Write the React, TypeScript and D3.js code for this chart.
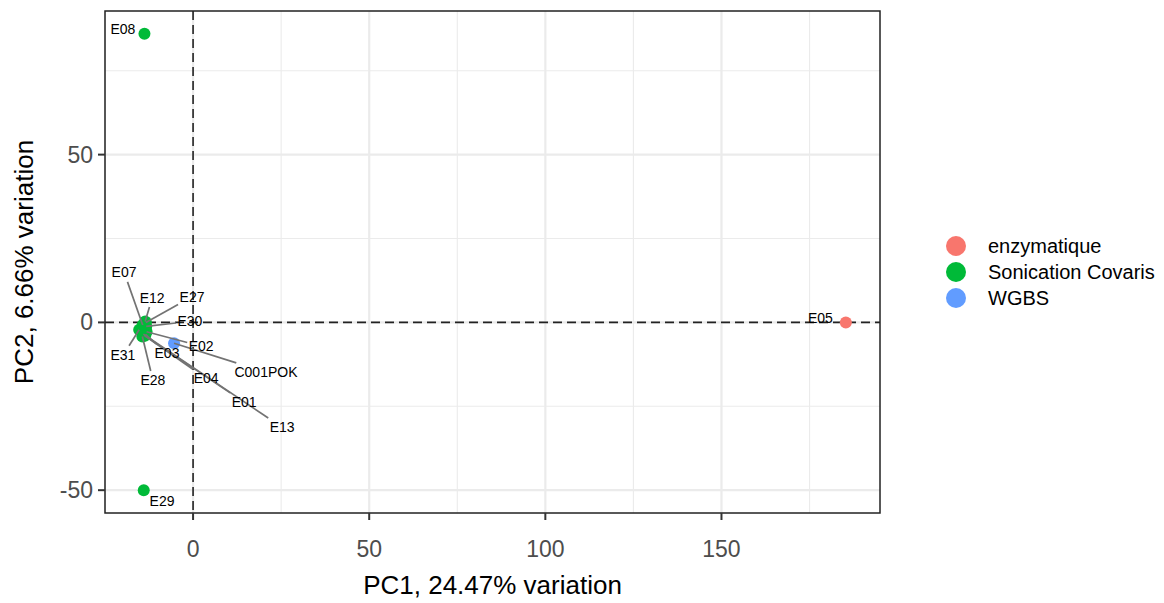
import React, { useEffect, useRef } from "react";
import * as d3 from "d3";

// Sample groups and their colours
const groupNames = ["enzymatique", "Sonication Covaris", "WGBS"];
const groupColors = ["#F8766D", "#00BA38", "#619CFF"];

// PCA scores per sample
const sampleIds = ["E08", "E29", "E05", "C001POK", "E07", "E12", "E27", "E30", "E02", "E03", "E04", "E01", "E13", "E31", "E28"];
const sampleGroup = ["Sonication Covaris", "Sonication Covaris", "enzymatique", "WGBS", "Sonication Covaris", "Sonication Covaris", "Sonication Covaris", "Sonication Covaris", "Sonication Covaris", "Sonication Covaris", "Sonication Covaris", "Sonication Covaris", "Sonication Covaris", "Sonication Covaris", "Sonication Covaris"];
const pc1 = [-13.8, -14.0, 185.3, -5.4, -14.3, -13.6, -13.4, -13.3, -13.2, -13.5, -13.7, -13.9, -14.1, -15.3, -14.4];
const pc2 = [86.0, -50.0, 0.0, -6.2, -0.8, 0.3, 0.0, -1.2, -2.8, -3.6, -4.0, -3.8, -3.5, -2.2, -4.2];

// Repelled label anchors (in PC units)
const labelPc1 = [-19.9, -8.8, 178.1, 20.7, -19.6, -11.6, -0.3, -0.9, 2.3, -7.4, 3.7, 14.5, 25.3, -19.9, -11.4];
const labelPc2 = [87.5, -53.3, 1.2, -14.9, 14.9, 7.4, 7.7, 0.3, -7.1, -9.2, -16.7, -23.8, -31.3, -9.8, -17.3];

// Axis ticks
const xMajor = [0, 50, 100, 150];
const xMinor = [-25, 25, 75, 125, 175];
const yMajor = [-50, 0, 50];
const yMinor = [-25, 25, 75];
const xDomain = [-25, 195];
const yDomain = [-56.8, 92.8];

const xTitle = "PC1, 24.47% variation";
const yTitle = "PC2, 6.66% variation";

const FONT = "'Liberation Sans', Arial, Helvetica, sans-serif";

export default function App() {
  const ref = useRef<SVGSVGElement>(null);

  useEffect(() => {
    const svg = d3.select(ref.current);
    svg.selectAll("*").remove();

    const left = 105, right = 880, top = 11, bottom = 513;
    const x = d3.scaleLinear().domain(xDomain).range([left, right]);
    const y = d3.scaleLinear().domain(yDomain).range([bottom, top]);
    const color = d3.scaleOrdinal<string, string>().domain(groupNames).range(groupColors);

    const g = svg.append("g");

    // panel background
    g.append("rect").attr("x", left).attr("y", top).attr("width", right - left).attr("height", bottom - top).attr("fill", "white");

    // grid
    g.selectAll(".xmin").data(xMinor).enter().append("line")
      .attr("x1", (d) => x(d)).attr("x2", (d) => x(d)).attr("y1", top).attr("y2", bottom)
      .attr("stroke", "#ebebeb").attr("stroke-width", 1.1);
    g.selectAll(".ymin").data(yMinor).enter().append("line")
      .attr("y1", (d) => y(d)).attr("y2", (d) => y(d)).attr("x1", left).attr("x2", right)
      .attr("stroke", "#ebebeb").attr("stroke-width", 1.1);
    g.selectAll(".xmaj").data(xMajor).enter().append("line")
      .attr("x1", (d) => x(d)).attr("x2", (d) => x(d)).attr("y1", top).attr("y2", bottom)
      .attr("stroke", "#ebebeb").attr("stroke-width", 2.2);
    g.selectAll(".ymaj").data(yMajor).enter().append("line")
      .attr("y1", (d) => y(d)).attr("y2", (d) => y(d)).attr("x1", left).attr("x2", right)
      .attr("stroke", "#ebebeb").attr("stroke-width", 2.2);

    // reference lines at zero
    g.append("line").attr("x1", x(0)).attr("x2", x(0)).attr("y1", top).attr("y2", bottom)
      .attr("stroke", "#222").attr("stroke-width", 1.6).attr("stroke-dasharray", "9 5");
    g.append("line").attr("y1", y(0)).attr("y2", y(0)).attr("x1", left).attr("x2", right)
      .attr("stroke", "#222").attr("stroke-width", 1.6).attr("stroke-dasharray", "9 5");

    const data = sampleIds.map((id, i) => ({
      id, group: sampleGroup[i], px: x(pc1[i]), py: y(pc2[i]), lx: x(labelPc1[i]), ly: y(labelPc2[i]),
    }));

    // points
    g.selectAll(".pt").data(data).enter().append("circle")
      .attr("cx", (d) => d.px).attr("cy", (d) => d.py).attr("r", 6)
      .attr("fill", (d) => color(d.group));

    // labels (measured first, then segments run from the point toward the
    // label centre and stop where they meet the label box)
    const labels = g.append("g");
    const segs = g.insert("g", () => labels.node());
    data.forEach((d) => {
      const t = labels.append("text").attr("x", d.lx).attr("y", d.ly)
        .attr("text-anchor", "middle").attr("dominant-baseline", "central")
        .attr("font-family", FONT).attr("font-size", 14).attr("fill", "black").text(d.id);
      const bb = (t.node() as SVGTextElement).getBBox();
      const pad = 1.5;
      const bx0 = bb.x - pad, bx1 = bb.x + bb.width + pad, by0 = bb.y - pad, by1 = bb.y + bb.height + pad;
      const ccx = bb.x + bb.width / 2, ccy = bb.y + bb.height / 2;
      const dx = ccx - d.px, dy = ccy - d.py;
      // entry parameter of the ray point -> centre into the box
      let tEnter = 0;
      if (dx !== 0) {
        const t1 = (bx0 - d.px) / dx, t2 = (bx1 - d.px) / dx;
        tEnter = Math.max(tEnter, Math.min(t1, t2));
      }
      if (dy !== 0) {
        const t1 = (by0 - d.py) / dy, t2 = (by1 - d.py) / dy;
        tEnter = Math.max(tEnter, Math.min(t1, t2));
      }
      const ex = d.px + dx * tEnter, ey = d.py + dy * tEnter;
      const dist = Math.hypot(ex - d.px, ey - d.py);
      if (dist > 14) {
        segs.append("line").attr("x1", d.px).attr("y1", d.py).attr("x2", ex).attr("y2", ey)
          .attr("stroke", "#737373").attr("stroke-width", 1.7);
      }
    });

    // panel border
    g.append("rect").attr("x", left).attr("y", top).attr("width", right - left).attr("height", bottom - top)
      .attr("fill", "none").attr("stroke", "#222").attr("stroke-width", 1.5);

    // x axis ticks & labels
    xMajor.forEach((v) => {
      g.append("line").attr("x1", x(v)).attr("x2", x(v)).attr("y1", bottom).attr("y2", bottom + 7)
        .attr("stroke", "#333").attr("stroke-width", 2);
      g.append("text").attr("x", x(v)).attr("y", bottom + 44).attr("text-anchor", "middle")
        .attr("font-family", FONT).attr("font-size", 23).attr("fill", "#4d4d4d").text(String(v));
    });
    yMajor.forEach((v) => {
      g.append("line").attr("x1", left - 7).attr("x2", left).attr("y1", y(v)).attr("y2", y(v))
        .attr("stroke", "#333").attr("stroke-width", 2);
      g.append("text").attr("x", left - 12).attr("y", y(v)).attr("text-anchor", "end")
        .attr("dominant-baseline", "central")
        .attr("font-family", FONT).attr("font-size", 23).attr("fill", "#4d4d4d").text(String(v));
    });

    // axis titles
    g.append("text").attr("x", (left + right) / 2).attr("y", 594).attr("text-anchor", "middle")
      .attr("font-family", FONT).attr("font-size", 26).attr("fill", "black").text(xTitle);
    g.append("text").attr("transform", `translate(33, ${(top + bottom) / 2}) rotate(-90)`)
      .attr("text-anchor", "middle")
      .attr("font-family", FONT).attr("font-size", 26).attr("fill", "black").text(yTitle);

    // legend
    const leg = g.append("g");
    groupNames.forEach((name, i) => {
      const ly = 246 + i * 26;
      leg.append("circle").attr("cx", 956).attr("cy", ly).attr("r", 10).attr("fill", groupColors[i]);
      leg.append("text").attr("x", 988).attr("y", ly).attr("dominant-baseline", "central")
        .attr("font-family", FONT).attr("font-size", 20).attr("fill", "black").text(name);
    });
  }, []);

  return (
    <svg ref={ref} width={1164} height={603}
      style={{ position: "absolute", left: 0, top: 0, background: "white" }} />
  );
}
